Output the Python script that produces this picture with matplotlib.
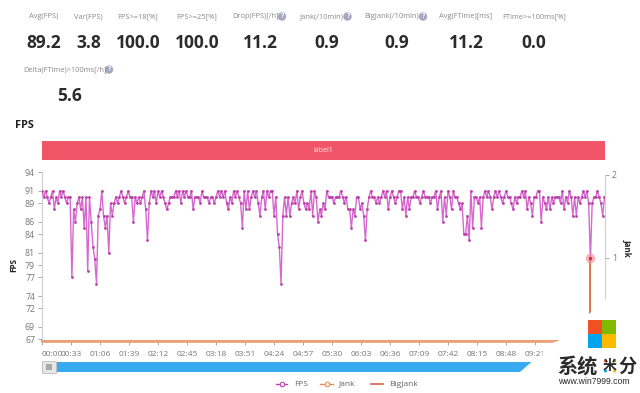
import numpy as np
import matplotlib
matplotlib.use("Agg")
import matplotlib.pyplot as plt
from matplotlib.patches import Rectangle, Polygon, Circle

plt.rcParams['font.family'] = ['Open Sans', 'Noto Sans CJK SC', 'DejaVu Sans']

# header stats
stat_names = ["Avg(FPS)", "Var(FPS)", "FPS>=18[%]", "FPS>=25[%]", "Drop(FPS)[/h]", "Jank(/10min)",
              "BigJank(/10min)", "Avg(FTime)[ms]", "FTime>=100ms[%]", "Delta(FTime)>100ms[/h]"]
stat_values = ["89.2", "3.8", "100.0", "100.0", "11.2", "0.9", "0.9", "11.2", "0.0", "5.6"]

# one sample every 2 seconds
fps_values = [
    91,90,91,90,89,90,91,88,90,89,91,90,91,90,89,90,90,77,88,86,
    89,90,88,90,85,90,78,90,86,82,80,76,87,88,91,87,85,87,81,89,
    87,89,90,89,90,91,90,89,90,91,90,90,86,90,89,90,89,90,91,88,
    83,89,91,90,91,89,91,90,91,90,89,88,89,90,90,90,91,90,91,89,
    91,90,91,90,90,91,88,90,90,90,89,91,90,90,90,89,90,90,89,90,
    91,90,91,90,91,89,88,90,89,91,90,91,90,89,85,91,88,91,88,90,
    91,90,91,89,87,90,91,88,91,90,91,91,87,90,84,82,76,87,90,87,
    90,87,89,90,89,91,88,90,91,89,88,89,88,91,87,91,90,86,88,87,
    89,88,91,90,90,90,89,90,90,90,91,90,89,90,88,88,85,88,87,90,
    90,88,89,87,83,88,90,91,90,90,89,90,89,90,91,90,91,88,90,91,
    90,89,90,91,91,88,90,87,90,88,90,90,91,90,90,89,90,91,90,90,
    90,89,90,90,91,88,90,91,86,90,87,91,90,88,91,90,90,89,88,89,
    84,84,87,83,91,85,90,90,89,90,85,90,91,90,91,90,88,90,91,90,
    91,90,89,90,91,90,90,89,88,90,89,90,90,91,90,91,88,90,89,87,
    90,90,91,91,86,90,89,88,90,88,90,89,90,90,90,89,91,88,90,89,
    91,90,87,90,87,90,89,90,91,90,91,89,80,89,90,90,91,90,89,87,90,
]
fps_ticks = [67, 69, 72, 74, 77, 79, 81, 84, 86, 89, 91, 94]
jank_ticks = [1, 2]
time_ticks = [0, 33, 66, 99, 132, 165, 198, 231, 264, 297, 330, 363, 396, 429, 462, 495, 528, 561]
time_labels = ["00:00", "00:33", "01:06", "01:39", "02:12", "02:45", "03:18", "03:51", "04:24",
               "04:57", "05:30", "06:03", "06:36", "07:09", "07:42", "08:15", "08:48", "09:21"]
jank_times = [0, 640]
jank_values = [0, 0]
bigjank_times = [0, 624, 624, 624, 640]
bigjank_values = [0, 0, 1, 0, 0]
band_label = "label1"

fps_times = np.arange(len(fps_values)) * 2

W, H = 640, 393
fig = plt.figure(figsize=(6.4, 3.93), dpi=100, facecolor="white")

# axes box in pixels
left, right, top, bottom = 42, 605, 172, 340.8
ax = fig.add_axes([left / W, 1 - bottom / H, (right - left) / W, (bottom - top) / H])
ax.set_xlim(0, 640.6)
ax.set_ylim(66.76, 94.05)
ax.patch.set_alpha(0)
for s in ["top", "right", "bottom"]:
    ax.spines[s].set_visible(False)
ax.spines["left"].set_color("#ccd0d6")
ax.set_yticks(fps_ticks)
ax.set_yticklabels([str(v) for v in fps_ticks])
ax.tick_params(axis="y", labelsize=6.3, colors="#777777", length=3, width=0.7, pad=2, color="#aaaaaa")
ax.set_xticks(time_ticks)
ax.set_xticklabels(time_labels)
ax.tick_params(axis="x", labelsize=6, colors="#777777", length=3, width=0.7, pad=4, color="#aaaaaa")
ax.get_xticklabels()[0].set_ha("left")

ax.plot(fps_times, fps_values, color="#d768cf", lw=1.0, zorder=3)
ax.plot(fps_times, fps_values, ls="none", marker="o", ms=2, mfc="#bb3fa8", mew=0, zorder=3)

ax2 = ax.twinx()
ax2.set_ylim(0, 2.036)
ax2.patch.set_alpha(0)
for s in ["top", "left", "bottom"]:
    ax2.spines[s].set_visible(False)
ax2.spines["right"].set_color("#ccd0d6")
ax2.spines["right"].set_bounds(0.5, 2)
ax2.set_yticks(jank_ticks)
ax2.set_yticklabels([str(v) for v in jank_ticks])
ax2.tick_params(axis="y", labelsize=6.3, colors="#777777", length=3, width=0.7, pad=2, color="#aaaaaa")
ax2.plot(bigjank_times, bigjank_values, color="#e8744a", lw=1.4, clip_on=False, zorder=2)
ax2.plot(jank_times, jank_values, color="#eda27c", lw=2, clip_on=False, zorder=3)
ax2.plot([bigjank_times[2]], [bigjank_values[2]], "o", ms=7, color="#f08a96", alpha=0.6, mew=0, zorder=4)
ax2.plot([bigjank_times[2]], [bigjank_values[2]], "o", ms=2.5, color="#c2304a", mew=0, zorder=5)

# everything else placed in pixel coords
ov = fig.add_axes([0, 0, 1, 1], zorder=10)
ov.set_xlim(0, W)
ov.set_ylim(H, 0)
ov.axis("off")
ov.patch.set_alpha(0)

label_x = [44, 88, 138, 197, 255.5, 321.5, 391.5, 466, 534, 65]
value_x = [44, 88.6, 138, 197, 260, 327, 397, 466, 534, 70]
for i in range(len(stat_names)):
    y0, y1 = (17, 43) if i < 9 else (70, 96)
    ov.text(label_x[i], y0, stat_names[i], fontsize=5.4, color="#8a8a8a", ha="center", va="center")
    ov.text(value_x[i], y1, stat_values[i], fontsize=12.5, color="#2b2b2b", fontweight="bold", ha="center", va="center")

for cx, cy in [(282, 16.5), (347.5, 16.5), (423, 16.5), (109, 69.5)]:
    ov.add_patch(Circle((cx, cy), 4.2, color="#a3a8c0", lw=0))
    ov.text(cx, cy, "?", fontsize=5, color="white", fontweight="bold", ha="center", va="center")

ov.text(15, 125, "FPS", fontsize=7.8, fontweight="bold", color="#222222", ha="left", va="center")
ov.text(14, 265, "FPS", fontsize=5.8, fontweight="bold", color="#222222", rotation=90, ha="center", va="center")
ov.text(627, 248, "Jank", fontsize=5.8, fontweight="bold", color="#222222", rotation=270, ha="center", va="center")

ov.add_patch(Rectangle((42, 141), 563, 19, color="#f05568", lw=0))
ov.text(323, 150.5, band_label, fontsize=5, color="#ffe8ea", ha="center", va="center")

# zoom slider
ov.add_patch(Polygon([(56, 362), (531.5, 362), (520, 372), (56, 372)], color="#38aaf0", lw=0))
ov.add_patch(Rectangle((42, 360.5), 14, 12.5, fc="#e6e6e6", ec="#c4c4c4", lw=0.7))
ov.add_patch(Rectangle((46, 363.5), 6, 6, fc="#a8a8a8", ec="none"))

# legend
ov.plot([276, 287], [384, 384], color="#c040b4", lw=1)
ov.plot([281.5], [384], "o", ms=3.2, mfc="white", mec="#c040b4", mew=0.8)
ov.text(294, 384, "FPS", fontsize=6, color="#666666", ha="left", va="center")
ov.plot([320, 333], [384, 384], color="#ee8c4e", lw=1)
ov.plot([326.5], [384], "o", ms=3.2, mfc="white", mec="#ee8c4e", mew=0.8)
ov.text(339, 384, "Jank", fontsize=6, color="#666666", ha="left", va="center")
ov.plot([371, 383], [384, 384], color="#d85a50", lw=1.2)
ov.text(389, 384, "BigJank", fontsize=6, color="#666666", ha="left", va="center")

# watermark with its white backing
cjk = ["Noto Sans CJK SC", "DejaVu Sans"]
ov.add_patch(Polygon([(543, 393), (543, 346), (558, 341), (605, 300), (640, 270), (640, 393)], color="white", lw=0))
ov.add_patch(Rectangle((588, 320), 13.6, 13.6, color="#f25022", lw=0))
ov.add_patch(Rectangle((602.4, 320), 13.6, 13.6, color="#7fba00", lw=0))
ov.add_patch(Rectangle((588, 334.4), 13.6, 13.6, color="#00a4ef", lw=0))
ov.add_patch(Rectangle((602.4, 334.4), 13.6, 13.6, color="#ffb900", lw=0))
ov.text(577, 366, "系统", fontsize=14.5, fontweight="bold", color="#2a2a2a", ha="center", va="center", family=cjk)
ov.text(610, 366, "米", fontsize=10, fontweight="bold", color="#2a2a2a", ha="center", va="center", family=cjk)
for dx, dy, c in [(-4.5, -5, "#f25022"), (4.5, -5, "#7fba00"), (-4.5, 5, "#00a4ef"), (4.5, 5, "#ffb900")]:
    ov.add_patch(Circle((610 + dx, 366 + dy), 1.5, color=c, lw=0))
ov.text(627, 366, "分", fontsize=13, fontweight="bold", color="#2a2a2a", ha="center", va="center", family=cjk)
ov.text(594, 382, "www.win7999.com", fontsize=6.2, color="#2a2a2a", ha="center", va="center",
        family=["Liberation Sans", "DejaVu Sans"])

fig.savefig("out.png", dpi=100)
